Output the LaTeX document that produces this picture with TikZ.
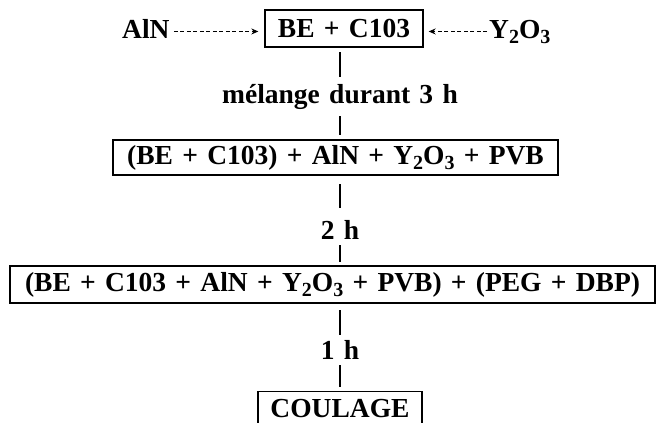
\documentclass[tikz,border=0pt]{standalone}
\usepackage{fontspec}
\setmainfont{Liberation Serif}[WordSpace=1.35]
\usetikzlibrary{arrows.meta}
\newcommand{\lowidx}[1]{\raisebox{-0.4ex}{\fontsize{20}{21}\selectfont #1}}
\begin{document}
\begin{tikzpicture}[x=1pt,y=-1pt,
  txt/.style={font=\bfseries\fontsize{27.5}{31}\selectfont, inner sep=0pt},
  boxed/.style={txt, draw, line width=1.3pt, minimum height=37pt, inner xsep=6pt},
  vline/.style={line width=1.2pt},
  feed/.style={line width=1.1pt, dash pattern=on 4pt off 2.5pt, -{Stealth[length=7pt,width=6pt]}}]
\useasboundingbox (0,0) rectangle (659,423);
% top row
\node[boxed, minimum width=158pt] (b1) at (344,28.5) {BE + C103};
\node[txt, anchor=base west] (aln) at (122,38) {AlN};
\node[txt, anchor=base west] (y2o3) at (489,38) {Y\lowidx{2}O\lowidx{3}};
\coordinate (fa) at ([xshift=4pt,yshift=-3pt]aln.east);
\coordinate (fb) at ([xshift=-2pt]y2o3.west |- fa);
\draw[feed] (fa) -- ([xshift=-6pt]b1.west |- fa);
\draw[feed] (fb) -- ([xshift=5pt]b1.east |- fb);
% step 1
\coordinate (l1a) at (340,52); \coordinate (l1b) at (340,77);
\draw[vline] (l1a) -- (l1b);
\node[txt] (t1) at (340,97) {mélange durant 3 h};
\coordinate (l2a) at (340,116); \coordinate (l2b) at (340,135);
\draw[vline] (l2a) -- (l2b);
\node[boxed, minimum width=445pt, minimum height=35pt] (b2) at (335.5,157.5) {(BE + C103) + AlN + Y\lowidx{2}O\lowidx{3} + PVB};
% step 2
\coordinate (l3a) at (340,184); \coordinate (l3b) at (340,208);
\draw[vline] (l3a) -- (l3b);
\node[txt] (t2) at (340,230) {2 h};
\coordinate (l4a) at (340,245); \coordinate (l4b) at (340,262);
\draw[vline] (l4a) -- (l4b);
\node[boxed, minimum width=645pt] (b3) at (332.5,284.5) {(BE + C103 + AlN + Y\lowidx{2}O\lowidx{3} + PVB) + (PEG + DBP)};
% step 3
\coordinate (l5a) at (340,310); \coordinate (l5b) at (340,335);
\draw[vline] (l5a) -- (l5b);
\node[txt] (t3) at (340,350) {1 h};
\coordinate (l6a) at (340,365); \coordinate (l6b) at (340,387);
\draw[vline] (l6a) -- (l6b);
\node[boxed, minimum width=164pt, minimum height=34pt, anchor=north] (b4) at (340,391) {COULAGE};
\end{tikzpicture}
\end{document}
